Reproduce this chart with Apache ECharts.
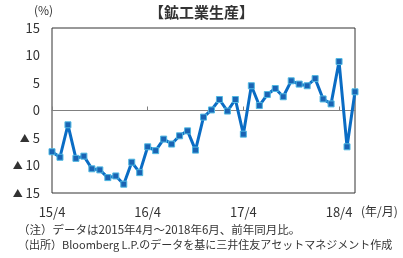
<!DOCTYPE html>
<html>
<head>
<meta charset="utf-8">
<script src="https://cdn.jsdelivr.net/npm/echarts@6/dist/echarts.min.js"></script>
<style>
html,body{margin:0;padding:0;background:#fff;}
#c{width:403px;height:258px;}
</style>
</head>
<body>
<div id="c"></div>
<script>
var categories = [
  '15/4','15/5','15/6','15/7','15/8','15/9','15/10','15/11','15/12',
  '16/1','16/2','16/3','16/4','16/5','16/6','16/7','16/8','16/9','16/10','16/11','16/12',
  '17/1','17/2','17/3','17/4','17/5','17/6','17/7','17/8','17/9','17/10','17/11','17/12',
  '18/1','18/2','18/3','18/4','18/5','18/6'
];
var production = [
  -7.5,-8.5,-2.6,-8.7,-8.3,-10.6,-10.8,-12.2,-11.9,
  -13.4,-9.4,-11.3,-6.6,-7.3,-5.2,-6.1,-4.6,-3.7,-7.2,-1.2,0.1,
  2.0,-0.1,2.0,-4.3,4.5,0.9,2.9,4.0,2.5,5.4,4.8,4.5,
  5.8,2.1,1.2,8.9,-6.6,3.4
];
var xTickLabels = ['15/4','16/4','17/4','18/4'];
var yTicks = [-15,-10,-5,0,5,10,15];

var FONT = '"Noto Sans CJK JP", "Noto Sans", sans-serif';
var chart = echarts.init(document.getElementById('c'), null, {renderer:'canvas'});
chart.setOption({
  animation:false,
  backgroundColor:'#fff',
  textStyle:{fontFamily:FONT},
  grid:{left:52,right:48,top:28,bottom:65,show:true,borderColor:'#333',borderWidth:1,backgroundColor:'transparent'},
  xAxis:[{
    type:'category',data:categories,boundaryGap:false,position:'bottom',
    axisLine:{onZero:true,lineStyle:{color:'#808080',width:1}},
    axisTick:{show:true,inside:true,length:4,lineStyle:{color:'#808080'},
      interval:function(i){return i%12===0;}},
    axisLabel:{show:false},splitLine:{show:false}
  },{
    type:'category',data:categories,boundaryGap:false,position:'bottom',
    axisLine:{show:false,onZero:false},axisTick:{show:false},
    axisLabel:{show:true,color:'#333',fontSize:13,fontFamily:FONT,margin:13,
      interval:function(i,v){return xTickLabels.indexOf(v)>=0;}},
    splitLine:{show:false}
  }],
  yAxis:{
    type:'value',min:yTicks[0],max:yTicks[yTicks.length-1],interval:5,
    axisLine:{show:false},axisTick:{show:false},splitLine:{show:false},
    axisLabel:{color:'#333',fontSize:13,fontFamily:FONT,margin:12,
      formatter:function(v){return v<0?'{t|▲} '+Math.abs(v):String(v);},
      rich:{t:{fontSize:10,color:'#333',fontFamily:FONT}}}
  },
  graphic:[
    {type:'text',left:'center',top:5,style:{text:'【鉱工業生産】',font:'bold 15px '+FONT,fill:'#333'}},
    {type:'text',left:34,top:4,style:{text:'(%)',font:'12px '+FONT,fill:'#333'}},
    {type:'text',left:361,top:205,style:{text:'(年/月)',font:'12px '+FONT,fill:'#333'}},
    {type:'text',left:18,top:224,style:{text:'（注）データは2015年4月～2018年6月、前年同月比。',font:'11.5px '+FONT,fill:'#333'}},
    {type:'text',left:18,top:239,style:{text:'（出所）Bloomberg L.P.のデータを基に三井住友アセットマネジメント作成',font:'11px '+FONT,fill:'#333'}}
  ],
  series:[{
    type:'line',xAxisIndex:0,data:production,
    lineStyle:{color:'#0a6cc4',width:3},
    symbol:'rect',symbolSize:6,showSymbol:true,showAllSymbol:true,
    itemStyle:{color:'#1a64b4',borderColor:'#4fb8e2',borderWidth:1}
  }]
});
</script>
</body>
</html>
